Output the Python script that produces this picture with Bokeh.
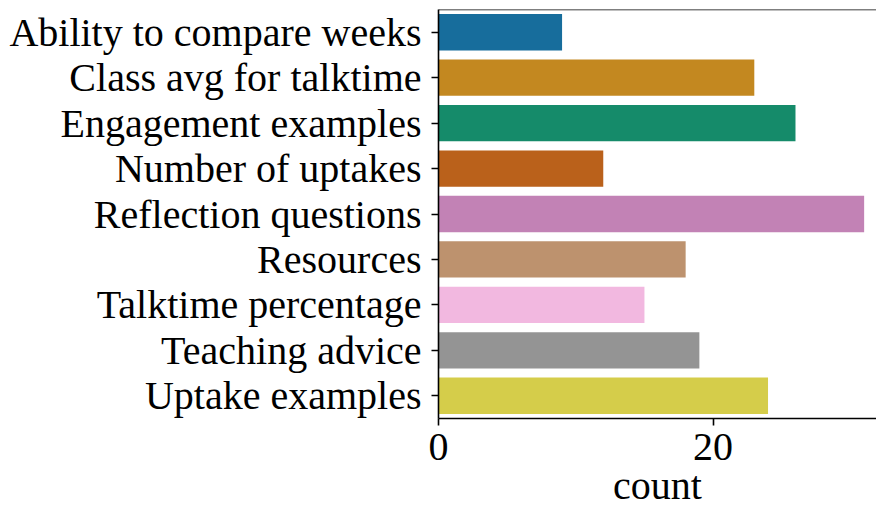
import colorsys
from bokeh.plotting import figure
from bokeh.models import FactorRange, Range1d, FixedTicker, Span, ColumnDataSource
from bokeh.embed import file_html
from bokeh.resources import INLINE

categories = [
    "Ability to compare weeks",
    "Class avg for talktime",
    "Engagement examples",
    "Number of uptakes",
    "Reflection questions",
    "Resources",
    "Talktime percentage",
    "Teaching advice",
    "Uptake examples",
]
counts = [9, 23, 26, 12, 31, 18, 15, 19, 24]
x_ticks = [0, 20]
x_label = "count"

base_palette = ["#0173b2", "#de8f05", "#029e73", "#d55e00", "#cc78bc",
                "#ca9161", "#fbafe4", "#949494", "#ece133"]


def desaturate(hexc, prop=0.75):
    r, g, b = (int(hexc[i:i + 2], 16) / 255 for i in (1, 3, 5))
    h, l, s = colorsys.rgb_to_hls(r, g, b)
    r, g, b = colorsys.hls_to_rgb(h, l, s * prop)
    return "#%02x%02x%02x" % tuple(int(round(c * 255)) for c in (r, g, b))


colors = [desaturate(c) for c in base_palette]

src = ColumnDataSource(dict(cat=categories, count=counts, color=colors))

FONT = "Liberation Serif"
FS = "40px"

p = figure(
    width=876, height=510,
    y_range=FactorRange(factors=categories[::-1]),
    x_range=Range1d(0, 31.9),
    output_backend="svg", toolbar_location=None,
    min_border_left=438, min_border_right=0,
    min_border_top=9, min_border_bottom=92,
)
p.hbar(y="cat", left=0, right="count", height=0.8, color="color",
       line_color=None, source=src)

p.grid.visible = False
p.outline_line_color = None
p.background_fill_color = "white"

for ax in (p.xaxis[0], p.yaxis[0]):
    ax.axis_line_color = "black"
    ax.axis_line_width = 1.6
    ax.major_tick_line_color = "black"
    ax.major_tick_line_width = 1.6
    ax.major_tick_out = 7
    ax.major_tick_in = 0
    ax.minor_tick_line_color = None
    ax.major_label_text_font = FONT
    ax.major_label_text_font_size = FS
    ax.major_label_text_color = "black"

p.xaxis.ticker = FixedTicker(ticks=x_ticks)
p.xaxis.axis_label = x_label
p.xaxis.axis_label_text_font = FONT
p.xaxis.axis_label_text_font_size = FS
p.xaxis.axis_label_text_font_style = "normal"
p.xaxis.axis_label_text_color = "black"
p.xaxis.major_label_standoff = 8
p.xaxis.axis_label_standoff = 0
p.yaxis.major_label_standoff = 10

p.add_layout(Span(location=len(categories), dimension="width",
                  line_color="black", line_width=1.6))

open("out.html", "w").write(file_html(p, INLINE))
